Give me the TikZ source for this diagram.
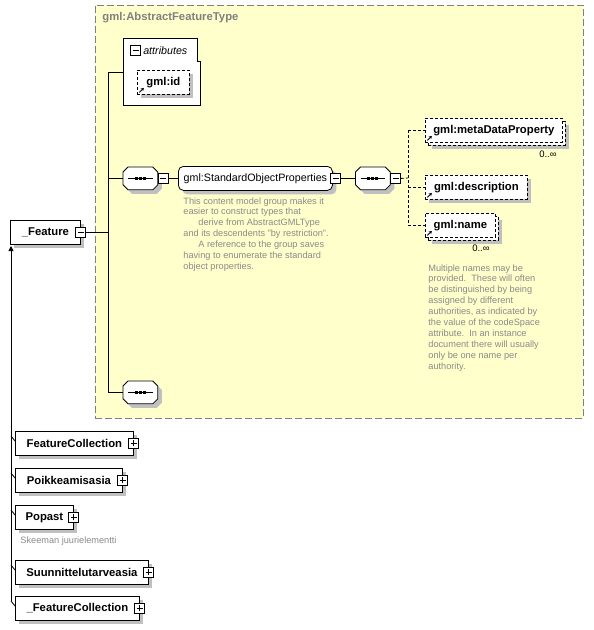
\documentclass[tikz,border=0pt]{standalone}
\usepackage{fontspec}
\setmainfont{Liberation Sans}
\usetikzlibrary{positioning,shadows,arrows.meta,calc}

\definecolor{typebg}{HTML}{FFFFCC}
\definecolor{typeframe}{HTML}{808080}
\definecolor{shadowgray}{HTML}{C0C0C0}
\definecolor{notegray}{HTML}{8A8A8A}

\newcommand{\elemfont}{\fontsize{11.3}{13}\selectfont\bfseries}
\newcommand{\grpfont}{\fontsize{10.7}{13}\selectfont}
\newcommand{\notefont}{\fontsize{9.2}{10.9}\selectfont}
\newcommand{\occfont}{\fontsize{9.5}{11}\selectfont}

% sequence compositor outline round a named node
\newcommand{\seqshape}[1]{%
  \draw[fill=white, preaction={fill=shadowgray, transform canvas={shift={(4pt,-4pt)}}}]
    ($(#1.north west)+(5,0)$) -- ($(#1.north east)+(-5,0)$) -- ($(#1.north east)+(0,5)$) --
    ($(#1.south east)+(0,-5)$) -- ($(#1.south east)+(-5,0)$) -- ($(#1.south west)+(5,0)$) --
    ($(#1.south west)+(0,-5)$) -- ($(#1.north west)+(0,5)$) -- cycle;
  \draw ($(#1.west)+(5,0)$) -- ($(#1.east)+(-5,0)$);
  \draw[line width=2.5pt, dash pattern=on 3pt off 1pt] ($(#1.center)+(-5.5,0)$) -- ($(#1.center)+(5.5,0)$);
}

\tikzset{
  shadowed/.style={drop shadow={shadow xshift=4pt,shadow yshift=-4pt,fill=shadowgray,opacity=1}},
  elem/.style={draw, fill=white, shadowed, anchor=north west, inner sep=0pt, minimum height=24pt, font=\elemfont},
  refelem/.style={elem, dash pattern=on 3pt off 2pt,
    path picture={\draw[solid,line width=0.8pt,-{Stealth[length=3pt,width=3.5pt]}] ([shift={(2pt,2pt)}]path picture bounding box.south west) -- ++(4.5pt,4.5pt);}},
  manyelem/.style={refelem, drop shadow={shadow xshift=7pt,shadow yshift=-7pt,fill=shadowgray,opacity=1},
    copy shadow={shadow xshift=3pt,shadow yshift=-3pt,fill=white,draw=black,dash pattern=on 3pt off 2pt}},
  pmbox/.style={draw, solid, fill=white, minimum size=10pt, inner sep=0pt},
  minusbox/.style={pmbox, path picture={\draw ([xshift=2pt]path picture bounding box.west) -- ([xshift=-2pt]path picture bounding box.east);}},
  plusbox/.style={pmbox, path picture={\draw ([xshift=2pt]path picture bounding box.west) -- ([xshift=-2pt]path picture bounding box.east);
    \draw ([yshift=2pt]path picture bounding box.south) -- ([yshift=-2pt]path picture bounding box.north);}},
  seqbox/.style={anchor=north west, minimum width=34pt, minimum height=22pt, inner sep=0pt},
  grpbox/.style={draw, fill=white, shadowed, rounded corners=5pt, anchor=north west, inner sep=0pt, minimum height=24pt, font=\grpfont},
  note/.style={anchor=north west, inner sep=0pt, align=left, text=notegray, font=\notefont},
  occ/.style={inner sep=0pt, font=\occfont},
  optional/.style={dash pattern=on 3pt off 2pt}
}

\begin{document}
\begin{tikzpicture}[x=1pt, y=-1pt, line width=0.8pt]

\def\trunk{108}
\def\base{11}

\useasboundingbox (0,0) rectangle (594,630);

% TYPE
\node[draw=typeframe, fill=typebg, dash pattern=on 7pt off 3pt, anchor=north west, minimum width=488pt, minimum height=413pt, inner sep=0pt] (type) at (95,5) {};
\node[anchor=west, inner sep=0pt, text=typeframe, font=\elemfont] (typename) at (102,18) {gml:AbstractFeatureType};

% ATTRIBUTES
\node[anchor=north west, minimum width=77.5pt, minimum height=67pt, inner sep=0pt] (attr) at (123,38) {};
\draw[fill=white] (attr.north west) -- ++(74,0) -- ++(0,23) -- ++(3.5,0) |- (attr.south west) -- cycle;
\node[minusbox] (attr-pm) at (135.5,50.5) {};
\node[right=2pt of attr-pm, inner sep=0pt, font=\grpfont\itshape] (attr-title) {attributes};
\node[refelem, minimum width=52pt] (id) at (137,70) {gml:id};

% ELEMENT
\node[elem, minimum width=70pt] (feat) at (10,220) {\_Feature};
\node[minusbox] (feat-pm) at (feat.east) {};

% CONTENT
\node[seqbox] (seq1) at (123,167) {};
\seqshape{seq1}
\node[minusbox, right=0pt of seq1] (seq1-pm) {};
\node[grpbox, minimum width=154pt] (grp) at (178,166) {gml:StandardObjectProperties};
\node[minusbox] (grp-pm) at ([xshift=3pt]grp.east) {};
\node[note] (grp-note) at (183,197) {This content model group makes it\\easier to construct types that\\\hspace*{15pt}derive from AbstractGMLType\\and its descendents "by restriction".\\\hspace*{15pt}A reference to the group saves\\having to enumerate the standard\\object properties.};
\node[seqbox] (seq2) at (355.5,167) {};
\seqshape{seq2}
\node[minusbox, right=0pt of seq2] (seq2-pm) {};
\node[seqbox] (seq3) at (123,381) {};
\seqshape{seq3}

\node[manyelem, minimum width=137pt] (mdp) at (425,118) {gml:metaDataProperty};
\node[occ, anchor=north east] (mdp-occ) at (557,150) {0..∞};
\node[refelem, minimum width=102pt] (desc) at (425,175) {gml:description};
\node[manyelem, minimum width=70pt] (name) at (425,213) {gml:name};
\node[occ, anchor=north east] (name-occ) at (490,244) {0..∞};
\node[note] (name-note) at (428,264) {Multiple names may be\\provided.\ \ These will often\\be distinguished by being\\assigned by different\\authorities, as indicated by\\the value of the codeSpace\\attribute.\ \ In an instance\\document there will usually\\only be one name per\\authority.};

% LINKS
\coordinate (trunk-top) at (\trunk,72);
\coordinate (trunk-bot) at (\trunk,392);
\coordinate (bus) at (408,178);
\draw (trunk-top) -- (trunk-bot);
\draw (feat-pm.east) -- (feat-pm.east -| trunk-top);
\draw (trunk-top) -- (trunk-top -| attr.west);
\draw (seq1.west -| trunk-top) -- (seq1.west);
\draw (seq3.west -| trunk-top) -- (seq3.west);
\draw (seq1-pm.east) -- (grp.west);
\draw (grp-pm.east) -- (seq2.west);
\draw[optional] (seq2-pm.east) -- (bus);
\draw[optional] (bus |- mdp.west) -- (bus |- name.west);
\foreach \n in {mdp,desc,name}
  \draw[optional] (bus |- \n.west) -- (\n.west);

% DERIVED
\node[elem, minimum width=118pt] (fc) at (15,431) {FeatureCollection};
\node[plusbox] (fc-pm) at (fc.east) {};
\node[elem, minimum width=107pt] (poik) at (15,468) {Poikkeamisasia};
\node[plusbox] (poik-pm) at (poik.east) {};
\node[elem, minimum width=58pt] (popast) at (15,505) {Popast};
\node[plusbox] (popast-pm) at (popast.east) {};
\node[note, anchor=west] (popast-note) at (20,541) {Skeeman juurielementti};
\node[elem, minimum width=133pt] (suun) at (15,560) {Suunnittelutarveasia};
\node[plusbox] (suun-pm) at (suun.east) {};
\node[elem, minimum width=124pt] (fcoll) at (15,596) {\_FeatureCollection};
\node[plusbox] (fcoll-pm) at (fcoll.east) {};

\coordinate (base-top) at (\base,246);
\coordinate (base-bot) at (\base,601);
\draw[-{Triangle[length=5pt,width=5pt]}] (base-bot) -- (base-top);
\foreach \n in {fc,poik,popast,suun,fcoll}
  \draw ($(\n.north west)+(-4,5)$) -- ($(\n.north west)+(0,10)$);

\end{tikzpicture}
\end{document}
